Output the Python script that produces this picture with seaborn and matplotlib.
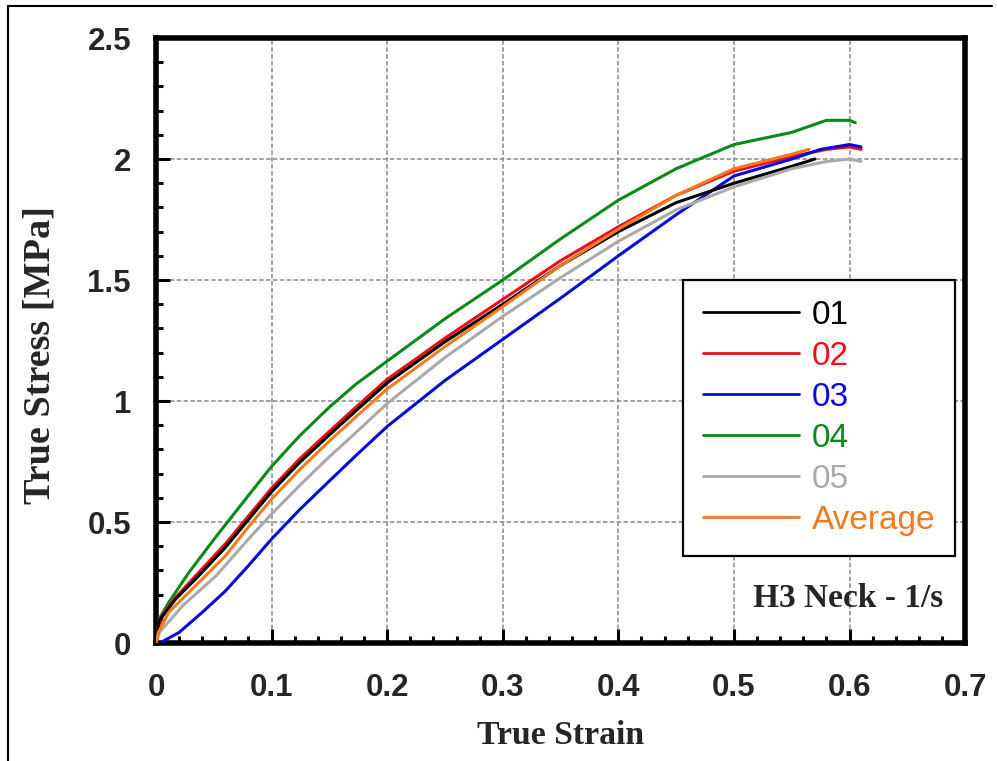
import numpy as np
import pandas as pd
import matplotlib
matplotlib.use("Agg")
import matplotlib.pyplot as plt
from matplotlib.ticker import MultipleLocator, FuncFormatter
from matplotlib.lines import Line2D
import seaborn as sns

# ---------------------------------------------------------------
# Data (true strain vs true stress [MPa])
# ---------------------------------------------------------------
strain_01 = [0, 0.0026, 0.017, 0.037, 0.06, 0.08, 0.1, 0.124, 0.15, 0.173, 0.2, 0.25, 0.3, 0.35, 0.4, 0.45, 0.5, 0.55, 0.57]
stress_01 = [0, 0.092, 0.182, 0.278, 0.395, 0.51, 0.625, 0.745, 0.86, 0.96, 1.075, 1.245, 1.40, 1.56, 1.70, 1.82, 1.90, 1.97, 2.00]

strain_02 = [0, 0.005, 0.017, 0.037, 0.06, 0.08, 0.1, 0.124, 0.15, 0.173, 0.2, 0.25, 0.3, 0.35, 0.4, 0.45, 0.5, 0.55, 0.58, 0.6, 0.61]
stress_02 = [0, 0.113, 0.189, 0.292, 0.41, 0.525, 0.64, 0.76, 0.875, 0.975, 1.09, 1.26, 1.42, 1.58, 1.72, 1.85, 1.95, 2.01, 2.04, 2.05, 2.04]

strain_03 = [0.005, 0.007, 0.02, 0.04, 0.06, 0.08, 0.1, 0.124, 0.15, 0.173, 0.2, 0.25, 0.3, 0.35, 0.4, 0.45, 0.5, 0.55, 0.575, 0.6, 0.61]
stress_03 = [0, 0.01, 0.044, 0.127, 0.215, 0.32, 0.43, 0.55, 0.67, 0.775, 0.895, 1.085, 1.255, 1.425, 1.60, 1.77, 1.93, 2.00, 2.04, 2.06, 2.05]

strain_04 = [0, 0.0026, 0.011, 0.0285, 0.052, 0.08, 0.1, 0.124, 0.15, 0.173, 0.2, 0.25, 0.3, 0.35, 0.4, 0.45, 0.5, 0.55, 0.58, 0.6, 0.605]
stress_04 = [0, 0.099, 0.168, 0.292, 0.44, 0.61, 0.73, 0.855, 0.975, 1.07, 1.165, 1.34, 1.50, 1.67, 1.83, 1.96, 2.06, 2.11, 2.16, 2.16, 2.15]

strain_05 = [0, 0.003, 0.023, 0.052, 0.08, 0.1, 0.124, 0.15, 0.173, 0.2, 0.25, 0.3, 0.35, 0.4, 0.45, 0.5, 0.55, 0.58, 0.6, 0.61]
stress_05 = [0, 0.044, 0.154, 0.278, 0.43, 0.533, 0.65, 0.77, 0.87, 0.99, 1.18, 1.35, 1.51, 1.66, 1.79, 1.885, 1.96, 1.99, 2.00, 1.99]

strain_avg = [0, 0.002, 0.011, 0.037, 0.06, 0.08, 0.1, 0.124, 0.15, 0.173, 0.2, 0.25, 0.3, 0.35, 0.4, 0.45, 0.5, 0.55, 0.565]
stress_avg = [0, 0.044, 0.127, 0.25, 0.36, 0.48, 0.595, 0.715, 0.835, 0.935, 1.05, 1.225, 1.39, 1.56, 1.71, 1.85, 1.96, 2.02, 2.04]

labels = ["01", "02", "03", "04", "05", "Average"]
colors = ["#000000", "#e8101a", "#0a0ad8", "#098a18", "#aaaaaa", "#f47a20"]
draw_order = [4, 2, 3, 1, 5, 6]  # zorder so black sits over red etc.

series = [
    (strain_01, stress_01), (strain_02, stress_02), (strain_03, stress_03),
    (strain_04, stress_04), (strain_05, stress_05), (strain_avg, stress_avg),
]

frames = []
for lab, (xs, ys) in zip(labels, series):
    frames.append(pd.DataFrame({"strain": xs, "stress": ys, "test": lab}))
df = pd.concat(frames, ignore_index=True)

# ---------------------------------------------------------------
# Style
# ---------------------------------------------------------------
sns.set_style("white")
plt.rcParams["font.family"] = ["Liberation Sans", "DejaVu Sans"]

fig, ax = plt.subplots(figsize=(9.97, 7.61), dpi=100)
fig.subplots_adjust(left=0.1565, right=0.968, bottom=0.155, top=0.950)

for lab, col, z in zip(labels, colors, draw_order):
    sns.lineplot(data=df[df["test"] == lab], x="strain", y="stress",
                 color=col, linewidth=2.2, estimator=None, sort=False,
                 ax=ax, zorder=3 + z * 0.1, legend=False)

ax.set_xlim(0, 0.7)
ax.set_ylim(0, 2.5)
ax.xaxis.set_major_locator(MultipleLocator(0.1))
ax.xaxis.set_minor_locator(MultipleLocator(0.02))
ax.yaxis.set_major_locator(MultipleLocator(0.5))
ax.yaxis.set_minor_locator(MultipleLocator(0.1))
fmt = FuncFormatter(lambda v, p: f"{v:g}")
ax.xaxis.set_major_formatter(fmt)
ax.yaxis.set_major_formatter(fmt)

ax.grid(True, which="major", color="#8a8a8a", linestyle=(0, (3, 1.5)), linewidth=1.1)
ax.set_axisbelow(True)

for sp in ax.spines.values():
    sp.set_linewidth(4)
    sp.set_color("black")

ax.tick_params(which="both", direction="in", bottom=True, left=True, top=False, right=False,
               color="black", width=2.2)
ax.tick_params(which="major", length=10, labelsize=22.5)
ax.tick_params(axis="y", which="major", pad=18)
ax.tick_params(axis="x", which="major", pad=21.5)
ax.tick_params(which="minor", length=5)
for t in ax.get_xticklabels() + ax.get_yticklabels():
    t.set_fontweight("bold")

serif = ["Liberation Serif", "DejaVu Serif"]
ax.set_xlabel("True Strain", fontsize=24.3, fontweight="bold", family=serif, labelpad=12)
ax.set_ylabel("True Stress [MPa]", fontsize=27.5, fontweight="bold", family=serif)
ax.yaxis.set_label_coords(-0.122, 0.476)

handles = [Line2D([], [], color=c, linewidth=2) for c in colors]
leg = ax.legend(handles, labels, loc="upper left", bbox_to_anchor=(0.651, 0.600),
                borderaxespad=0, fontsize=24, frameon=True, fancybox=False,
                framealpha=1, edgecolor="black", borderpad=0.6, labelspacing=0.3,
                handlelength=2.9, handletextpad=0.37, labelcolor="linecolor")
leg.get_frame().set_linewidth(1.6)
leg.set_zorder(10)

ax.text(0.973, 0.074, "H3 Neck - 1/s", transform=ax.transAxes, ha="right", va="center",
        fontsize=24, fontweight="bold", family=serif, zorder=11)

# thin frame lines along the top and left edge of the picture
fig.add_artist(Line2D([7.5 / 997, 992 / 997], [1 - 5.5 / 761, 1 - 5.5 / 761],
                      color="black", linewidth=1.5, transform=fig.transFigure))
fig.add_artist(Line2D([7.5 / 997, 7.5 / 997], [0, 1 - 5.5 / 761],
                      color="black", linewidth=1.5, transform=fig.transFigure))

fig.savefig("out.png", dpi=100)
